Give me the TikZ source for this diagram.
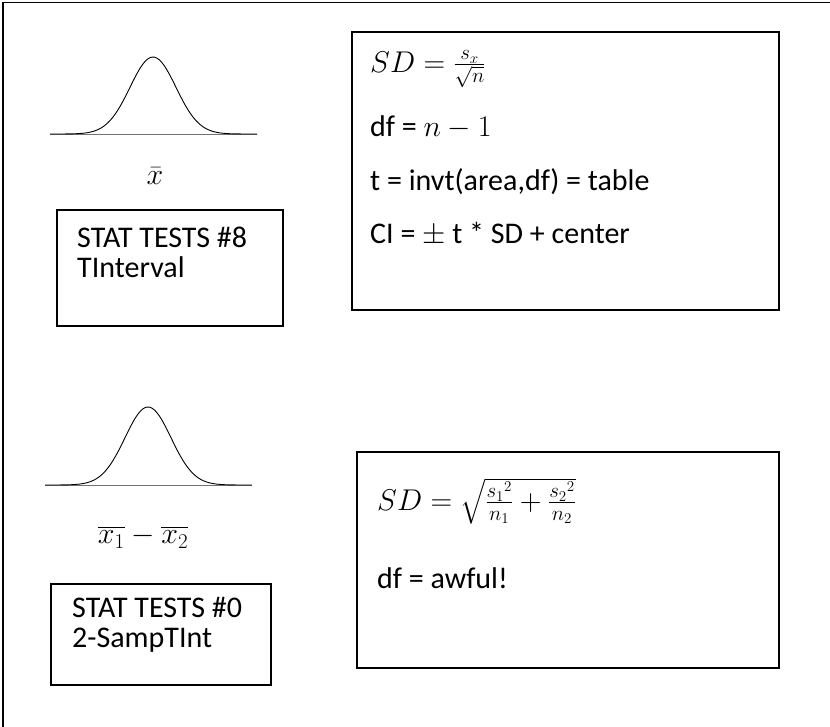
\RequirePackage{fix-cm}
\documentclass[tikz,border=0pt]{standalone}
\usepackage{amsmath}
\usepackage{fontspec}
\setmainfont{Carlito}
\usetikzlibrary{positioning}

\tikzset{
  box/.style={draw,line width=1.4pt,inner sep=0pt},
  txt/.style={anchor=base west,inner sep=0pt,font=\fontsize{30}{36}\selectfont},
  lbl/.style={inner sep=0pt,font=\fontsize{30}{36}\selectfont},
  axis/.style={draw=black!55,line width=1pt},
  bell/.style={line width=0.9pt}
}

\begin{document}
\begin{tikzpicture}[x=1pt,y=-1pt]
  \useasboundingbox (0,0) rectangle (830,726);
  % outer frame, cut off at the page edge
  \draw[line width=1.6pt] (3,740) -- (3,2);
  \draw[line width=0.9pt] (3,2) -- (840,2);

  % one sample
  \draw[axis] (50,134) -- (257,134);
  \draw[bell] plot[domain=50:257,samples=90,smooth] (\x,{134-77*exp(-((\x-153)/23)^2/2)});
  \node[lbl] (xbar) at (155,176) {$\bar{x}$};
  \draw[box] (57,210) rectangle (283,326);
  \node[txt] (test8) at (77,247) {STAT TESTS \#8};
  \node[txt] (tint) at (77,277) {TInterval};

  \draw[box] (352,32) rectangle (779,310);
  \node[txt] (sd1) at (370,72) {$SD=\frac{s_x}{\sqrt{n}}$};
  \node[txt] (df1) at (370,136) {df = $n-1$};
  \node[txt] (tval) at (370,190) {t = invt(area,df) = table};
  \node[txt] (ci) at (370,243) {CI = $\pm$ t * SD + center};

  % two samples
  \draw[axis] (45,485) -- (252,485);
  \draw[bell] plot[domain=45:252,samples=90,smooth] (\x,{485-78*exp(-((\x-148)/23)^2/2)});
  \node[lbl] (xdiff) at (143,537) {$\overline{x_1}-\overline{x_2}$};
  \draw[box] (51,584) rectangle (271,685);
  \node[txt] (test0) at (72,617) {STAT TESTS \#0};
  \node[txt] (samp) at (72,647) {2-SampTInt};

  \draw[box] (357,452) rectangle (779,668);
  \node[txt] (sd2) at (377,510) {$SD=\sqrt{\frac{{s_1}^2}{n_1}+\frac{{s_2}^2}{n_2}}$};
  \node[txt] (df2) at (377,588) {df = awful!};
\end{tikzpicture}
\end{document}
